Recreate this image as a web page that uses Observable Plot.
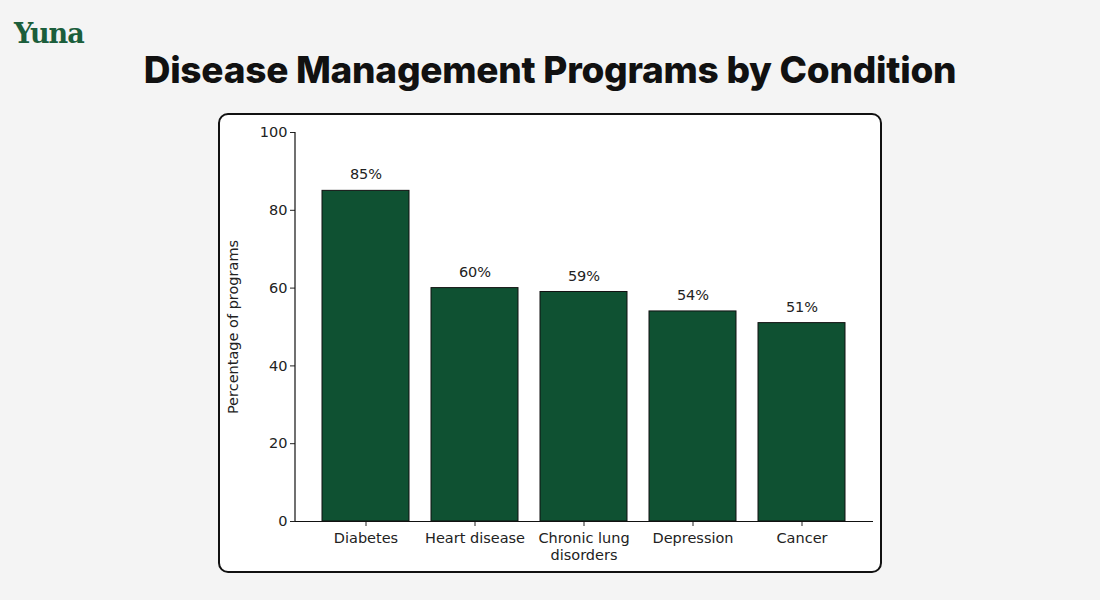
<!DOCTYPE html>
<html>
<head>
<meta charset="utf-8">
<script src="https://cdn.jsdelivr.net/npm/d3@7"></script>
<script src="https://cdn.jsdelivr.net/npm/@observablehq/plot@0.6"></script>
<style>
  html, body { margin: 0; padding: 0; background: #f4f4f4; }
  body { width: 1100px; height: 600px; position: relative; overflow: hidden; }
  #logo { position: absolute; left: 14px; top: 18px; font-family: "DejaVu Serif", serif; font-weight: bold; font-size: 27px; color: #1b5e3b; letter-spacing: -1px; }
  #title { position: absolute; left: 0; width: 1100px; top: 47px; text-align: center; font-family: Inter, sans-serif; font-weight: 800; font-size: 37px; color: #111; letter-spacing: -0.25px; }
  #card { position: absolute; left: 218px; top: 113px; width: 664px; height: 460px; box-sizing: border-box; border: 2px solid #111; border-radius: 10px; background: #fff; }
  #chart { position: absolute; left: 218px; top: 113px; }
</style>
</head>
<body>
<div id="logo">Yuna</div>
<div id="title">Disease Management Programs by Condition</div>
<div id="card"></div>
<div id="chart"></div>
<script>
const categories = ["Diabetes", "Heart disease", "Chronic lung\ndisorders", "Depression", "Cancer"];
const values = [85, 60, 59, 54, 51];
const yTicks = [0, 20, 40, 60, 80, 100];

const data = categories.map((c, i) => ({category: c, value: values[i]}));

const chart = Plot.plot({
  width: 664,
  height: 460,
  marginLeft: 77,
  marginRight: 9,
  marginTop: 19,
  marginBottom: 52,
  style: {fontFamily: "DejaVu Sans, sans-serif", fontSize: "14.5px", color: "#222", background: "transparent"},
  x: {domain: categories, paddingInner: 0.2, paddingOuter: 0.24, label: null},
  y: {domain: [0, 100], label: null},
  marks: [
    Plot.barY(data, {x: "category", y: "value", fill: "#0f5132", stroke: "#111", strokeWidth: 1}),
    Plot.text(data, {x: "category", y: "value", text: d => d.value + "%", dy: -16, fontSize: 14.5, fill: "#222"}),
    Plot.axisY({ticks: yTicks, tickSize: 5, tickPadding: 3, fontSize: 14.5, label: "Percentage of programs", labelAnchor: "center", labelOffset: 68, labelArrow: "none"}),
    Plot.axisX({tickSize: 5, tickPadding: 5, fontSize: 14.5, lineHeight: 1.15, label: null}),
    Plot.ruleY([0], {stroke: "#111", strokeWidth: 1.2})
  ]
});
document.getElementById("chart").appendChild(chart);

// left spine along the plot frame
d3.select(chart).append("line")
  .attr("x1", 77).attr("x2", 77)
  .attr("y1", 19).attr("y2", 460 - 52)
  .attr("stroke", "#111").attr("stroke-width", 1.2);
</script>
</body>
</html>
